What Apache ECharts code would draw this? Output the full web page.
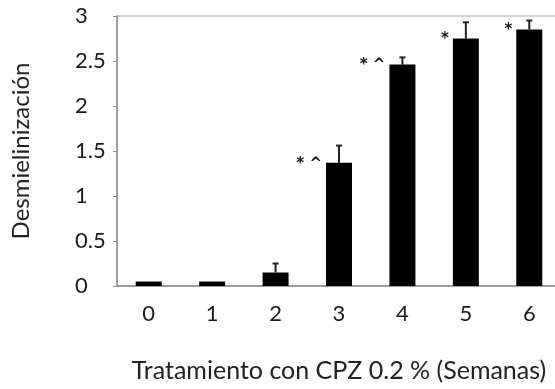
<!DOCTYPE html>
<html>
<head>
<meta charset="utf-8">
<script src="https://cdn.jsdelivr.net/npm/echarts@6/dist/echarts.min.js"></script>
<style>
  html, body { margin: 0; padding: 0; background: #fff; }
  #chart { width: 555px; height: 389px; }
</style>
</head>
<body>
<div id="chart"></div>
<script>
// semanas de tratamiento
const weeks = ['0', '1', '2', '3', '4', '5', '6']
// desmielinización media
const values = [0.05, 0.05, 0.15, 1.37, 2.46, 2.75, 2.85]
// extremo superior de la barra de error
const errorTops = [0.05, 0.05, 0.25, 1.56, 2.54, 2.93, 2.95]
// marcas de significancia
const marks = ['', '', '', '* ^', '* ^', '*', '*']

const FONT = 'Lato, "Open Sans", sans-serif'
const axisGrey = '#8c8c8c'

const chart = echarts.init(document.getElementById('chart'))

const option = {
  animation: false,
  grid: {
    left: 117,
    right: -6,
    top: 16,
    bottom: 103,
    show: true,
    borderColor: '#a8a8a8',
    borderWidth: 1,
    outerBoundsMode: 'none',
  },
  xAxis: [
    {
      type: 'category',
      data: weeks,
      name: 'Tratamiento con CPZ 0.2 % (Semanas)',
      nameLocation: 'middle',
      nameGap: 72,
      nameTextStyle: { fontFamily: FONT, fontSize: 25, color: '#222' },
      axisLine: { lineStyle: { color: axisGrey, width: 1.5 } },
      axisTick: { length: 4, lineStyle: { color: axisGrey } },
      axisLabel: { fontFamily: FONT, fontSize: 22, color: '#1a1a1a', margin: 17 },
    },
    {
      type: 'category',
      data: weeks,
      position: 'bottom',
      axisLine: { show: false },
      axisTick: { inside: true, length: 3, lineStyle: { color: axisGrey } },
      axisLabel: { show: false },
    },
  ],
  yAxis: [
    {
      type: 'value',
      min: 0,
      max: 3,
      interval: 0.5,
      name: 'Desmielinización',
      nameLocation: 'middle',
      nameGap: 84,
      nameTextStyle: { fontFamily: FONT, fontSize: 24, color: '#222' },
      axisLine: { show: true, lineStyle: { color: axisGrey, width: 1.5 } },
      axisTick: { show: true, length: 4, lineStyle: { color: axisGrey } },
      splitLine: { show: false },
      axisLabel: { fontFamily: FONT, fontSize: 22, color: '#1a1a1a', align: 'left', margin: 42 },
    },
    {
      type: 'value',
      min: 0,
      max: 3,
      interval: 0.5,
      axisLine: { show: false },
      axisTick: { show: true, inside: true, length: 4, lineStyle: { color: axisGrey } },
      splitLine: { show: false },
      axisLabel: { show: false },
    },
  ],
  series: [
    {
      type: 'bar',
      data: values,
      barWidth: 26,
      itemStyle: { color: '#000' },
      z: 2,
    },
    {
      type: 'custom',
      z: 3,
      data: weeks.map((w, i) => [i, values[i], errorTops[i]]),
      renderItem: (params, api) => {
        const i = api.value(0)
        const base = api.coord([i, api.value(1)])
        const top = api.coord([i, api.value(2)])
        const children = []
        if (api.value(2) > api.value(1)) {
          children.push({
            type: 'line',
            shape: { x1: base[0], y1: base[1], x2: top[0], y2: top[1] },
            style: { stroke: '#222', lineWidth: 2 },
          })
          children.push({
            type: 'line',
            shape: { x1: top[0] - 3, y1: top[1], x2: top[0] + 3, y2: top[1] },
            style: { stroke: '#222', lineWidth: 2 },
          })
        }
        const mark = marks[i]
        if (mark) {
          children.push({
            type: 'text',
            style: {
              x: base[0] - 17,
              y: base[1] + 1,
              text: mark,
              align: 'right',
              verticalAlign: 'middle',
              font: 'bold 15px "DejaVu Sans", sans-serif',
              fill: '#111',
            },
          })
        }
        return { type: 'group', children }
      },
    },
  ],
}

chart.setOption(option)
</script>
</body>
</html>
